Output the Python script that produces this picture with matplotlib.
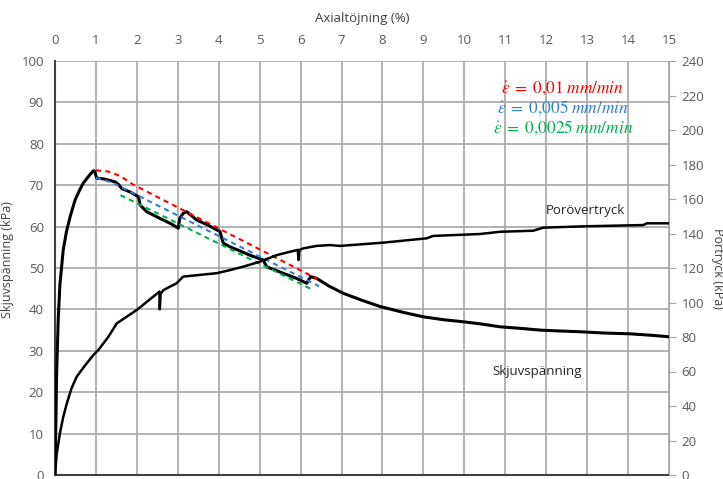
import numpy as np
import matplotlib
matplotlib.use('Agg')
import matplotlib.pyplot as plt

plt.rcParams['font.family'] = ['Open Sans', 'DejaVu Sans']
plt.rcParams['mathtext.fontset'] = 'stix'

# Skjuvspänning (kPa) mot axialtöjning (%)
shear_x = [0, 0.02, 0.04, 0.08, 0.12, 0.2, 0.28, 0.37, 0.49, 0.6, 0.69, 0.85, 0.94, 0.97,
           1.02, 1.2, 1.47, 1.55, 1.63, 1.85, 2.04, 2.08, 2.24, 2.32, 2.6, 2.85, 3.01, 3.05,
           3.13, 3.22, 3.46, 3.75, 4.03, 4.11, 4.28, 4.5, 4.76, 5.09, 5.17, 5.58, 5.9, 6.15,
           6.2, 6.25, 6.39, 6.7, 7.04, 7.5, 7.94, 8.5, 9.0, 9.5, 9.98, 10.4, 10.87, 11.4,
           11.85, 12.3, 12.83, 13.4, 14.05, 14.5, 15.0]
shear_y = [0, 12, 24.6, 38, 46, 54.3, 58.8, 62.4, 66.4, 68.8, 70.5, 72.5, 73.5, 73.3,
           71.7, 71.5, 70.8, 70.2, 69.2, 68.3, 67.2, 65.2, 63.6, 63.2, 61.8, 60.6, 59.6, 62,
           63.2, 63.6, 61.6, 60.3, 58.8, 56, 55.1, 54.2, 53.1, 51.9, 50.3, 48.7, 47.5, 46.3,
           47.2, 47.9, 47.5, 45.6, 43.9, 42.2, 40.7, 39.3, 38.2, 37.5, 37.0, 36.5, 35.8, 35.4,
           35.0, 34.8, 34.6, 34.3, 34.1, 33.8, 33.4]

# Porövertryck (kPa, höger axel)
pore_x = [0, 0.04, 0.12, 0.2, 0.29, 0.4, 0.53, 0.75, 0.94, 1.06, 1.3, 1.51, 2.0, 2.4,
          2.55, 2.56, 2.58, 2.65, 2.81, 2.97, 3.13, 3.54, 3.95, 4.28, 4.6, 5.01, 5.42, 5.74,
          5.93, 5.95, 5.97, 6.07, 6.39, 6.72, 6.96, 8.02, 9.08, 9.24, 10.38, 10.87, 11.68,
          11.93, 13.0, 14.37, 14.46, 15.0]
pore_y = [0, 12, 24.2, 33.5, 41.6, 50, 57, 64, 69.6, 72.5, 80, 87.9, 95.7, 103.4,
          106.3, 96, 105, 107.2, 109.2, 111.1, 115, 116, 117, 118.8, 120.8, 123.7, 127.5, 129.4,
          130.5, 124.6, 130.5, 131.4, 132.8, 133.3, 132.8, 134.7, 137.2, 138.6, 139.7, 141, 141.6,
          143.4, 144.2, 144.9, 145.9, 145.9]

# trendlinjer för olika töjningshastigheter
red_x = [1.0, 1.3, 1.6, 1.9, 6.4]
red_y = [73.6, 73.3, 72.2, 70.2, 47.4]
blue_x = [1.0, 1.4, 6.45]
blue_y = [71.8, 70.6, 45.6]
green_x = [1.6, 6.3]
green_y = [67.6, 44.7]

rate_labels = [r'$\dot{\varepsilon}\;=\;0{,}01\;mm/min$',
               r'$\dot{\varepsilon}\;=\;0{,}005\;mm/min$',
               r'$\dot{\varepsilon}\;=\;0{,}0025\;mm/min$']
red, blue, green = '#ff0000', '#2f80d0', '#00b050'

fig = plt.figure(figsize=(7.23, 4.79), dpi=100)
ax = fig.add_axes([55/723, 1 - 475/479, 614/723, 414/479])
ax2 = ax.twinx()

ax.set_xlim(0, 15)
ax.set_ylim(0, 100)
ax.set_xticks(range(0, 16))
ax.set_yticks(range(0, 101, 10))
ax.grid(True, color='#a6a6a6', lw=1.2)
ax.set_axisbelow(True)

ax.xaxis.tick_top()
ax.xaxis.set_label_position('top')
ax.tick_params(axis='both', length=0, labelsize=9.5, labelcolor='#595959')
ax.tick_params(axis='x', pad=10)
ax.tick_params(axis='y', pad=8)
for s in ['top', 'right']:
    ax.spines[s].set_visible(False)
for s in ['left', 'bottom']:
    ax.spines[s].set_color('#404040')
    ax.spines[s].set_linewidth(1.5)
ax.set_xlabel('Axialtöjning (%)', fontsize=9.5, color='#404040', labelpad=9)
ax.set_ylabel('Skjuvspänning (kPa)', fontsize=9, color='#404040')
ax.yaxis.set_label_coords(-41/614, 0.52)

ax2.set_ylim(0, 240)
ax2.set_yticks(range(0, 241, 20))
ax2.tick_params(axis='y', length=5, color='#a6a6a6', labelsize=9.5, labelcolor='#595959', pad=4)
for s in ['top', 'left', 'bottom']:
    ax2.spines[s].set_visible(False)
ax2.spines['right'].set_color('#a6a6a6')
ax2.set_ylabel('Portryck (kPa)', fontsize=9, color='#404040', rotation=-90, labelpad=14)

ax.plot(shear_x, shear_y, color='black', lw=2.2, zorder=3)
ax2.plot(pore_x, pore_y, color='black', lw=1.8, zorder=3)

dash = (0, (2.5, 2))
ax.plot(red_x, red_y, color=red, lw=1.5, ls=dash, zorder=4)
ax.plot(blue_x, blue_y, color=blue, lw=1.5, ls=dash, zorder=4)
ax.plot(green_x, green_y, color=green, lw=1.5, ls=dash, zorder=4)

for lab, col, yy in zip(rate_labels, [red, blue, green], [0.935, 0.888, 0.838]):
    ax.text(0.827, yy, lab, color=col, fontsize=12.5, ha='center', va='center',
            transform=ax.transAxes, zorder=5)

ax.text(12.95, 63.8, 'Porövertryck', fontsize=9.5, color='#262626', ha='center', va='center')
ax.text(11.78, 25.1, 'Skjuvspänning', fontsize=9.5, color='#262626', ha='center', va='center')

fig.savefig('out.png', dpi=100)
